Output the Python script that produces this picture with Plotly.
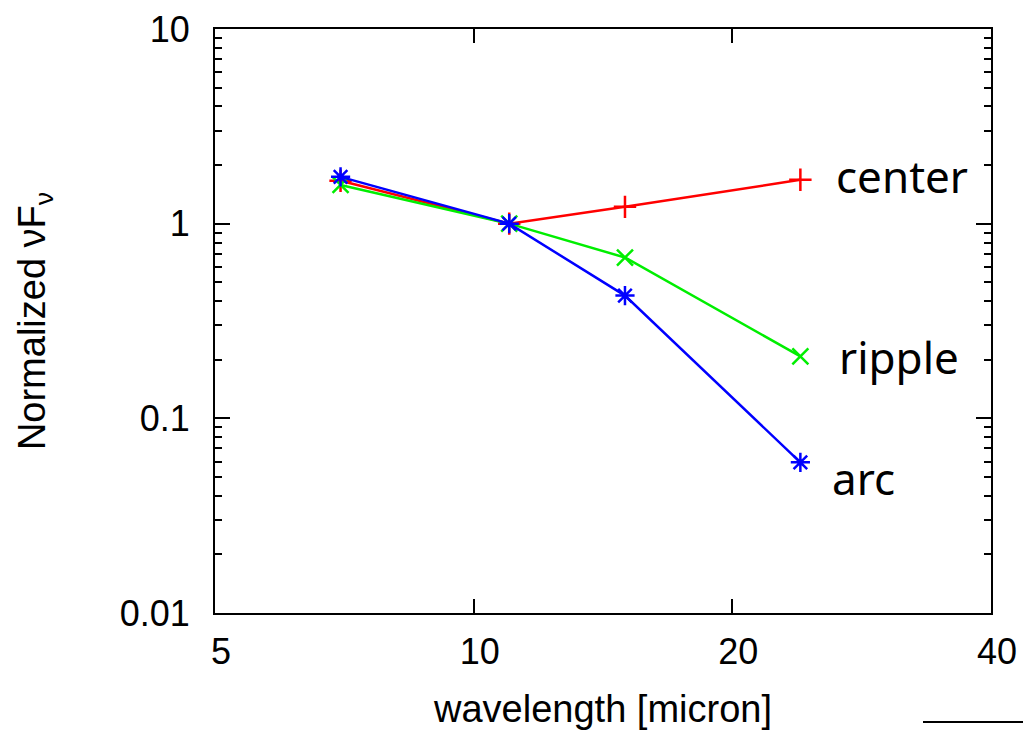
import numpy as np
import plotly.graph_objects as go

# AKARI mid-infrared band centres [micron]
wavelength = [7.0, 11.0, 15.0, 24.0]

# Normalized nu F_nu (normalised at 11 micron)
center = [1.66, 1.0, 1.22, 1.68]
ripple = [1.58, 1.0, 0.67, 0.208]
arc = [1.74, 1.0, 0.427, 0.0594]

series = [
    ("center", center, "#ff0000", "cross-thin"),
    ("ripple", ripple, "#00ee00", "x-thin"),
    ("arc", arc, "#0000ff", "asterisk"),
]

xtick_vals = [5, 10, 20, 40]
ytick_vals = [0.01, 0.1, 1, 10]
ytick_text = ["0.01", "0.1", "1", "10"]

W, H = 1023, 730
L, R, T, B = 215, 32, 29, 117

fig = go.Figure()
for name, vals, color, sym in series:
    fig.add_trace(go.Scatter(
        x=wavelength, y=vals, name=name, mode="lines+markers",
        line=dict(color=color, width=2.5),
        marker=dict(symbol=sym, size=16, color=color,
                    line=dict(color=color, width=2.5)),
        showlegend=False,
    ))

tick_font = dict(family="Liberation Sans, Arial, sans-serif", size=36, color="black")
title_font = dict(family="Liberation Sans, Arial, sans-serif", size=38, color="black")

fig.update_layout(
    width=W, height=H,
    margin=dict(l=L, r=R, t=T, b=B, autoexpand=False),
    paper_bgcolor="white", plot_bgcolor="white",
    xaxis=dict(
        type="log", range=[np.log10(5), np.log10(40)],
        tickvals=xtick_vals, ticktext=[str(v) for v in xtick_vals],
        ticks="inside", ticklen=14, tickwidth=2, tickcolor="black",
        showline=True, linewidth=2, linecolor="black", mirror="ticks",
        showgrid=False, zeroline=False,
        tickfont=tick_font, ticklabelstandoff=6, ticklabelshift=6,
        title=dict(text="wavelength [micron]", font=title_font, standoff=32),
    ),
    yaxis=dict(
        type="log", range=[-2, 1],
        tickvals=ytick_vals, ticktext=ytick_text,
        ticks="inside", ticklen=15, tickwidth=2, tickcolor="black",
        minor=dict(ticks="inside", ticklen=7, tickwidth=2, tickcolor="black",
                   dtick="D1", showgrid=False),
        showline=True, linewidth=2, linecolor="black", mirror="ticks",
        showgrid=False, zeroline=False,
        tickfont=tick_font, ticklabelstandoff=16,
        title=dict(text="Normalized νF<sub>ν</sub>", font=title_font, standoff=62),
    ),
)

pw, ph = W - L - R, H - T - B


def px(xp):
    return (xp - L) / pw


def py(yp):
    return (H - B - yp) / ph


label_font = dict(family="Noto Sans, Open Sans, sans-serif", size=44, color="black")
for text, xp, yp in [("center", 834, 176), ("ripple", 837, 357), ("arc", 830, 478)]:
    fig.add_annotation(text=text, x=px(xp), y=py(yp), xref="paper", yref="paper",
                       xanchor="left", yanchor="middle", showarrow=False,
                       font=label_font)

fig.add_shape(type="line", xref="paper", yref="paper",
              x0=px(923), x1=px(1030), y0=py(722), y1=py(722),
              line=dict(color="black", width=2))

fig.write_html("out.html")
